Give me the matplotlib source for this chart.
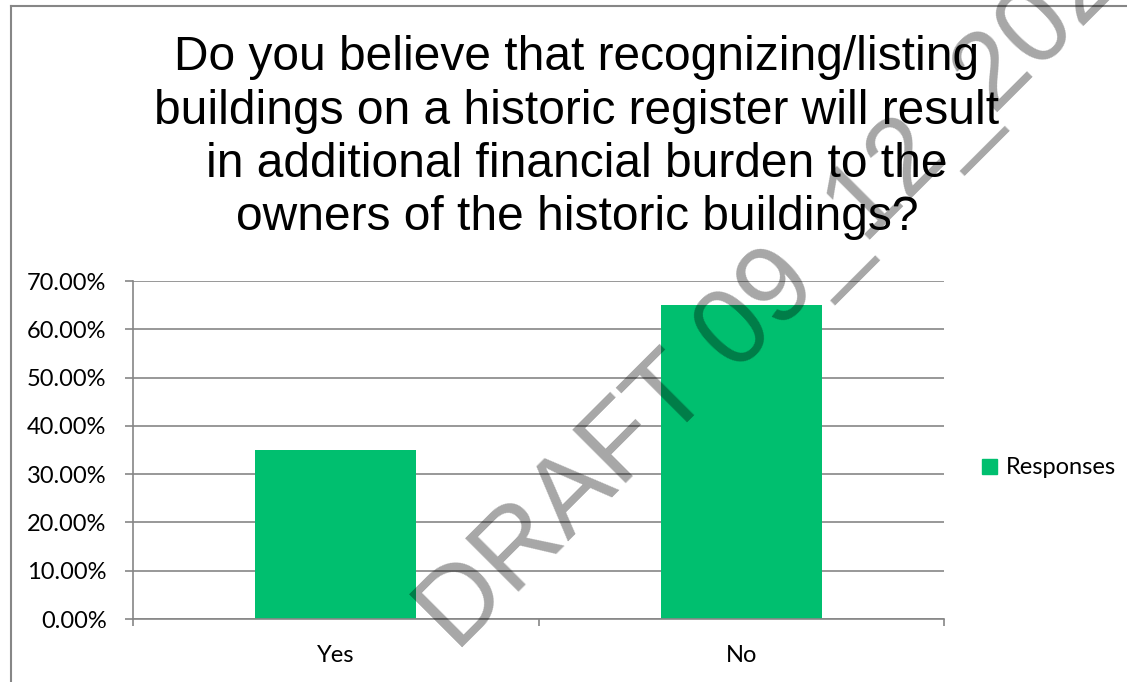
import numpy as np
import matplotlib
matplotlib.use('Agg')
import matplotlib.pyplot as plt
from matplotlib.patches import Patch
from matplotlib.lines import Line2D
from matplotlib.ticker import FuncFormatter

# survey data
categories = ['Yes', 'No']
responses = [0.35, 0.65]
series_name = 'Responses'
title = ('Do you believe that recognizing/listing\n'
         'buildings on a historic register will result\n'
         'in additional financial burden to the\n'
         'owners of the historic buildings?')
watermark = 'DRAFT 09_12_2023'

W, H = 1127, 682
green = '#00bf6f'
grey = '#868686'

fig = plt.figure(figsize=(W / 100, H / 100), dpi=100)

# chart frame (cut off on right/bottom)
fig.add_artist(Line2D([11 / W, 11 / W], [0, 1 - 6 / H], color=grey, lw=1.5))
fig.add_artist(Line2D([11 / W, 1], [1 - 6 / H, 1 - 6 / H], color=grey, lw=1.5))

ax = fig.add_axes([133 / W, 1 - 619 / H, (944 - 133) / W, (619 - 281) / H])
x = np.arange(len(categories))
ax.bar(x, responses, width=0.397, color=green, zorder=2)

ax.set_ylim(0, 0.7)
ax.set_xlim(-0.5, len(categories) - 0.5)
ax.set_yticks(np.arange(0, 0.71, 0.1))
ax.yaxis.set_major_formatter(FuncFormatter(lambda v, p: '{:.2f}%'.format(v * 100)))
ax.set_xticks(x)
ax.set_xticklabels(categories)
ax.set_xticks(np.arange(-0.5, len(categories)), minor=True)
ax.grid(axis='y', color=grey, lw=1.2, zorder=0)
ax.set_axisbelow(True)

for s in ['top', 'right']:
    ax.spines[s].set_visible(False)
for s in ['left', 'bottom']:
    ax.spines[s].set_color(grey)
    ax.spines[s].set_linewidth(1.2)

ax.tick_params(axis='y', direction='out', length=6, width=1.2, color=grey,
               pad=13, labelsize=17)
ax.tick_params(axis='x', which='major', length=0, pad=19, labelsize=17)
ax.tick_params(axis='x', which='minor', direction='out', length=5, width=1.2, color=grey)
for lab in ax.get_xticklabels() + ax.get_yticklabels():
    lab.set_fontfamily('Lato')

leg = fig.legend(handles=[Patch(color=green, label=series_name)],
                 loc='center left', bbox_to_anchor=(982 / W, 1 - 468 / H),
                 frameon=False, borderpad=0, borderaxespad=0,
                 handlelength=0.62, handleheight=0.62, handletextpad=0.4,
                 prop={'family': 'Lato', 'size': 17})

fig.text(577 / W, 1 - 35.5 / H, title, ha='center', va='top',
         fontsize=34.5, family='Liberation Sans', linespacing=1.23)

fig.text(456 / W, 1 - 653 / H, watermark, rotation=45, rotation_mode='anchor',
         ha='left', va='baseline', fontsize=79, family='Liberation Sans',
         color='black', alpha=0.35, zorder=10)

fig.savefig('out.png', dpi=100)
